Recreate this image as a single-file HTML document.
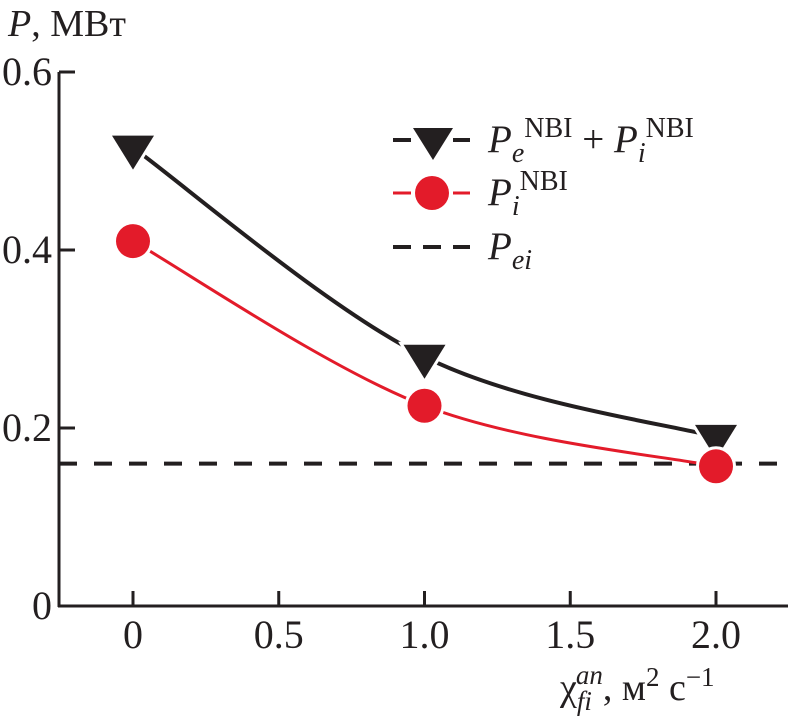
<!DOCTYPE html>
<html><head><meta charset="utf-8"><style>
body{margin:0;background:#fff}
svg{display:block;fill:#231f20}
svg text{font-family:"Liberation Serif","DejaVu Serif",serif}
</style></head><body>
<svg width="788" height="720" viewBox="0 0 788 720">
<g id="axes"></g>
<g id="marks"></g>
<g id="legend">
  <line x1="393" y1="140" x2="470" y2="140" stroke="#231f20" stroke-width="4" stroke-dasharray="18,12"/>
  <path d="M413,128 L453,128 L433,160 Z" fill="#231f20" stroke="#fff" stroke-width="5" paint-order="stroke"/>
  <text x="488" y="152" font-size="39" font-family="Liberation Serif, serif"><tspan font-style="italic">P</tspan><tspan font-style="italic" font-size="28" dy="10">e</tspan><tspan font-size="28" dy="-25">NBI</tspan><tspan dy="15"> + </tspan><tspan font-style="italic">P</tspan><tspan font-style="italic" font-size="28" dy="10">i</tspan><tspan font-size="28" dy="-25">NBI</tspan></text>
  <line x1="393" y1="193" x2="470" y2="193" stroke="#e31b2a" stroke-width="3" stroke-dasharray="18,12"/>
  <circle cx="432" cy="193" r="17" fill="#e31b2a" stroke="#fff" stroke-width="5" paint-order="stroke"/>
  <text x="488" y="205" font-size="39" font-family="Liberation Serif, serif"><tspan font-style="italic">P</tspan><tspan font-style="italic" font-size="28" dy="10">i</tspan><tspan font-size="28" dy="-25">NBI</tspan></text>
  <line x1="393" y1="247" x2="470" y2="247" stroke="#231f20" stroke-width="4" stroke-dasharray="18,12"/>
  <text x="488" y="259" font-size="39" font-family="Liberation Serif, serif"><tspan font-style="italic">P</tspan><tspan font-style="italic" font-size="28" dy="10">ei</tspan></text>
</g>
<text x="8" y="36" font-size="38" font-family="Liberation Serif, serif"><tspan font-style="italic">P</tspan>, МВт</text>
<text x="560" y="700" font-size="38" font-family="Liberation Serif, serif"><tspan>χ</tspan><tspan font-style="italic" font-size="27" dy="10">fi</tspan><tspan font-style="italic" font-size="27" dx="-16" dy="-26">an</tspan><tspan dy="16">, м</tspan><tspan font-size="27" dy="-14">2</tspan><tspan dy="14"> с</tspan><tspan font-size="27" dy="-14">−1</tspan></text>
</svg>
<script>
const xVals=[0,1.0,2.0];
const totalVals=[0.515,0.28,0.19];
const ionVals=[0.41,0.225,0.157];
const peiVal=0.16;
const xTicks=[0,0.5,1.0,1.5,2.0];
const xTickLabels=["0","0.5","1.0","1.5","2.0"];
const yTicks=[0,0.2,0.4,0.6];
const yTickLabels=["0","0.2","0.4","0.6"];
const NS="http://www.w3.org/2000/svg";
const sx=v=>133+v*291.5, sy=v=>606-v*890;
function mk(t,a,p){const e=document.createElementNS(NS,t);for(const k in a)e.setAttribute(k,a[k]);p.appendChild(e);return e;}
const ax=document.getElementById('axes'), mg=document.getElementById('marks');
let l=mk('line',{x1:59,y1:72,x2:59,y2:607,stroke:'#231f20','stroke-width':3},ax);


l=mk('line',{x1:58,y1:606,x2:788,y2:606,stroke:'#231f20','stroke-width':3},ax);


yTicks.forEach((v,i)=>{
 if(v>0){const t=mk('line',{x1:59,y1:sy(v),x2:75,y2:sy(v),stroke:'#231f20','stroke-width':3},ax);
 
 }
 const tx=mk('text',{x:52,y:sy(v)+13,'font-size':40,'text-anchor':'end','font-family':'Liberation Serif, serif'},ax);tx.textContent=yTickLabels[i];
 
 
});
xTicks.forEach((v,i)=>{
 const t=mk('line',{x1:sx(v),y1:606,x2:sx(v),y2:591,stroke:'#231f20','stroke-width':3},ax);
 
 
 const tx=mk('text',{x:sx(v),y:648,'font-size':40,'text-anchor':'middle','font-family':'Liberation Serif, serif'},ax);tx.textContent=xTickLabels[i];
 
 
});
l=mk('line',{x1:59,y1:sy(peiVal),x2:788,y2:sy(peiVal),stroke:'#231f20','stroke-width':4,'stroke-dasharray':'18,17'},mg);


function curve(ys){
 const P=xVals.map((x,i)=>[sx(x),sy(ys[i])]);
 let d=`M${P[0][0]},${P[0][1]}`;
 for(let i=0;i<P.length-1;i++){
  const p0=P[Math.max(i-1,0)],p1=P[i],p2=P[i+1],p3=P[Math.min(i+2,P.length-1)];
  const c1=[p1[0]+(p2[0]-p0[0])/6,p1[1]+(p2[1]-p0[1])/6],c2=[p2[0]-(p3[0]-p1[0])/6,p2[1]-(p3[1]-p1[1])/6];
  d+=` C${c1[0]},${c1[1]} ${c2[0]},${c2[1]} ${p2[0]},${p2[1]}`;
 }
 return d;
}
l=mk('path',{d:curve(totalVals),fill:'none',stroke:'#231f20','stroke-width':4},mg);


l=mk('path',{d:curve(ionVals),fill:'none',stroke:'#e31b2a','stroke-width':3},mg);


xVals.forEach((x,i)=>{
 const cx=sx(x),cy=sy(totalVals[i]);
 const t=mk('path',{d:`M${cx-21},${cy-12} L${cx+21},${cy-12} L${cx},${cy+22} Z`,fill:'#231f20',stroke:'#fff','stroke-width':6,'paint-order':'stroke'},mg);
 
 
 const c=mk('circle',{cx:cx,cy:sy(ionVals[i]),r:17,fill:'#e31b2a',stroke:'#fff','stroke-width':6,'paint-order':'stroke'},mg);
 
 
});
</script>
</body></html>
